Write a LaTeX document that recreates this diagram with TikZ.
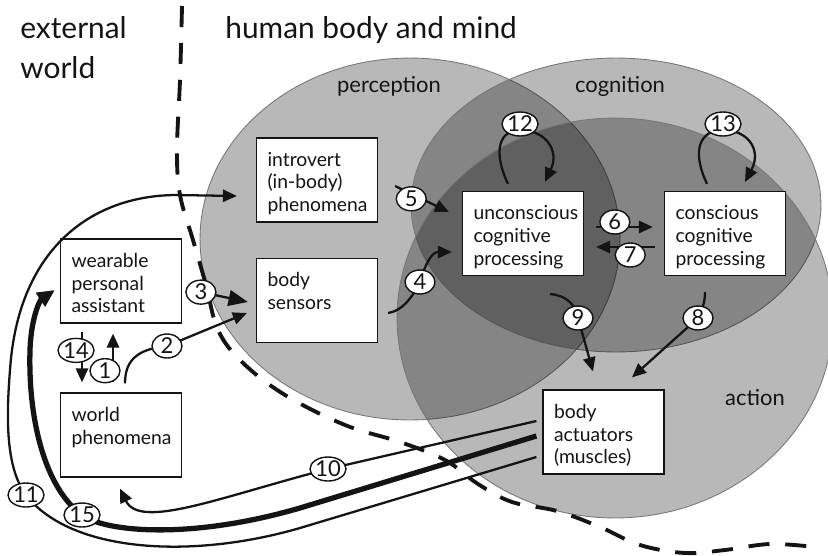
\documentclass[tikz,border=0pt]{standalone}
\usepackage{fontspec}
\setmainfont{Lato}
\usepackage{xcolor}
\definecolor{zone-edge}{RGB}{120,120,120}
\definecolor{ink}{RGB}{20,20,20}
\usetikzlibrary{arrows.meta,shapes.geometric}

% box text: top left, like a note card
\newcommand{\boxlines}[1]{\parbox[c][1.68cm][t]{2.42cm}{\raggedright\leftskip=0.22cm\vspace*{0.28cm}#1}}

\begin{document}
\begin{tikzpicture}[
    x=0.02cm, y=-0.02cm,
    every node/.style={inner sep=0pt, text=ink},
    zone/.style={fill=black, fill opacity=0.28, draw=zone-edge, line width=0.5pt},
    zonelabel/.style={font=\fontsize{12.5}{15}\selectfont},
    title/.style={font=\fontsize{17}{22.7}\selectfont, align=left},
    box/.style={draw=ink, fill=white, line width=0.7pt, minimum width=2.42cm, minimum height=1.68cm, font=\fontsize{11}{13}\selectfont},
    num/.style={ellipse, draw=ink, fill=white, line width=0.8pt, minimum width=0.6cm, minimum height=0.48cm, inner sep=0pt, font=\fontsize{12.5}{14}\selectfont},
    link/.style={draw=ink, line width=1.3pt, -{Triangle[length=8pt, width=7pt]}},
    biglink/.style={draw=ink, line width=1.3pt, -{Triangle[length=11pt, width=9pt]}},
    heavylink/.style={draw=ink, line width=3pt, -{Triangle[length=10pt, width=9pt]}},
    border/.style={draw=ink, line width=2.2pt, dash pattern=on 12pt off 9pt}
]

\clip (0,0) rectangle (828,555);

% Zones of the body and mind
\draw[zone] (410,239) ellipse [x radius=4.2cm, y radius=3.62cm];
\draw[zone] (616,205) ellipse [x radius=4.1cm, y radius=2.94cm];
\draw[zone] (615,318) ellipse [x radius=4.36cm, y radius=4.0cm];

\node[zonelabel, anchor=base] (perc) at (389,92) {perception};
\node[zonelabel, anchor=base] (cogn) at (620,92) {cognition};
\node[zonelabel, anchor=base] (actn) at (755,405) {action};

% Titles
\node[title, anchor=north west] (ext) at (20,16) {external\\world};
\node[title, anchor=north west] (hbm) at (225,16) {human body and mind};

% Boundary between world and body
\draw[border] plot[smooth, tension=0.6] coordinates {
    (182,6) (180,80) (177,150) (180,195) (193,240) (206,285) (218,330)
    (242,362) (285,395) (345,425) (400,442) (445,460) (478,484) (512,502)
    (557,511) (600,527) (640,545) (685,553) (725,550) (770,544) (815,547)};

% Boxes
\node[box] (intro) at (317,180) {\boxlines{introvert\\(in-body)\\phenomena}};
\node[box] (sensors) at (317,300.5) {\boxlines{body\\sensors}};
\node[box] (wearable) at (121,281) {\boxlines{wearable\\personal\\assistant}};
\node[box] (world) at (121,435) {\boxlines{world\\phenomena}};
\node[box] (uncon) at (523,233.5) {\boxlines{unconscious\\cognitive\\processing}};
\node[box] (con) at (725,233.5) {\boxlines{conscious\\cognitive\\processing}};
\node[box] (act) at (603.5,432) {\boxlines{body\\actuators\\(muscles)}};

% Links
\draw[link] ([shift={(-8,-10)}]world.north) -- node[num, pos=0.24, xshift=-0.16cm] (n1) {1} ([shift={(-8,10)}]wearable.south);
\draw[link] ([shift={(-39,8)}]wearable.south) -- node[num, pos=0.37, xshift=-0.12cm] (n14) {14} ([shift={(-39,-10)}]world.north);
\draw[link] ([shift={(4,-9)}]world.north) .. controls (125,358) and (140,349) .. (167,346) node[num] (n2) {2} -- ([shift={(-9,12.5)}]sensors.west);
\draw[biglink] ([shift={(4,8)}]wearable.east) -- node[num, pos=0.24] (n3) {3} ([shift={(-8,1.5)}]sensors.west);
\draw[link] ([shift={(10,12.5)}]sensors.east) .. controls (402,311) and (412,298) .. (420,282) node[num] (n4) {4} .. controls (426,262) and (432,252) .. ([shift={(-10,18.5)}]uncon.west);
\draw[link] ([shift={(17,6)}]intro.east) -- node[num, pos=0.3, yshift=-0.1cm] (n5) {5} ([shift={(-13,-21.5)}]uncon.west);
\draw[link] ([shift={(12,-6.5)}]uncon.east) -- node[num, pos=0.33, yshift=0.1cm] (n6) {6} ([shift={(-11,-6.5)}]con.west);
\draw[link] ([shift={(-9,13.5)}]con.west) -- node[num, pos=0.42, yshift=-0.16cm] (n7) {7} ([shift={(12,13.5)}]uncon.east);
\draw[link] ([shift={(-15,-7)}]uncon.north) .. controls (492,150) and (500,130) .. (520,130) node[num, yshift=0.12cm] (n12) {12} .. controls (545,130) and (560,150) .. ([shift={(22,-9)}]uncon.north);
\draw[link] ([shift={(-18,-7)}]con.north) .. controls (691,150) and (700,130) .. (723,130) node[num, yshift=0.12cm] (n13) {13} .. controls (748,130) and (762,150) .. ([shift={(20,-9)}]con.north);
\draw[link] ([shift={(27,18)}]uncon.south) .. controls (566,295) and (576,305) .. (578,318) node[num] (n9) {9} -- ([shift={(-10.5,-18)}]act.north);
\draw[link] ([shift={(-20,16)}]con.south) .. controls (705,303) and (702,310) .. (698,318) node[num] (n8) {8} -- ([shift={(28.5,-12)}]act.north);

% Links back out to the world
\draw[link] ([shift={(-6,-11)}]act.west) -- (328,469) node[num] (n10) {10} .. controls (220,497) and (140,530) .. ([shift={(-1,11)}]world.south);
\draw[heavylink] ([shift={(-6,4)}]act.west) -- (300,508) .. controls (190,540) and (105,532) .. (82,515) node[num, line width=0.8pt] (n15) {15} .. controls (45,488) and (28,420) .. (30,350) .. controls (31,318) and (40,300) .. ([shift={(-5,9)}]wearable.west);
\draw[link] ([shift={(-6,25)}]act.west) -- (300,528) .. controls (190,560) and (70,552) .. (26,495) node[num] (n11) {11} .. controls (6,468) and (6,420) .. (10,370) .. controls (18,250) and (90,196) .. (175,195) -- ([shift={(-19,16)}]intro.west);

\end{tikzpicture}
\end{document}
